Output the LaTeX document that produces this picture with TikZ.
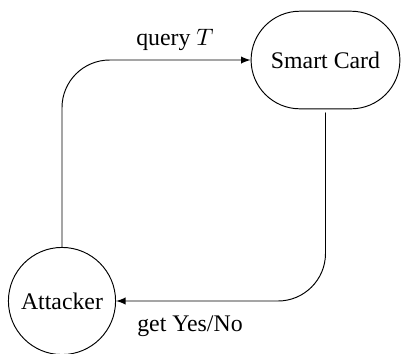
\documentclass[tikz,border=0pt]{standalone}
\usepackage{fontspec}
\setmainfont{Liberation Serif}
\usetikzlibrary{arrows}
\usetikzlibrary{shapes.misc}

\begin{document}
\begin{tikzpicture}[line cap=round,line join=round,>=latex,x=0.42pt,y=-0.42pt]
\useasboundingbox (0,0) rectangle (401,353);
\tikzset{party/.style={draw,circle,minimum size=45pt,inner sep=0pt},
  device/.style={draw,rounded rectangle,minimum width=62.5pt,minimum height=41pt,inner sep=0pt}}
\node [party] (attacker) at (62,301) {Attacker};
\node [device] (card) at (325.5,60) {Smart Card};
\draw [->,rounded corners=20pt] (attacker.north) |- (card.west);
\draw [->,rounded corners=20pt,shorten <=1.5pt] (card.south) |- (attacker.east);
\node (query) at (175,40) {query $T$};
\node (answer) at (190,326) {get Yes/No};
\end{tikzpicture}
\end{document}
